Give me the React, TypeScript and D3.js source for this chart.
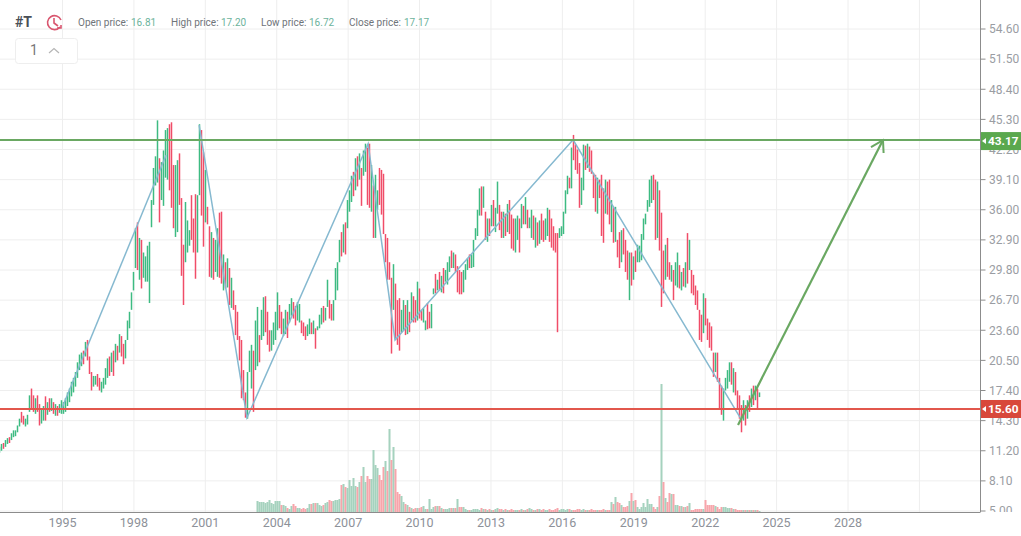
import * as d3 from "d3";

const WIDTH = 1021;
const HEIGHT = 536;
const PLOT = {right: 980.5, bottom: 512};

// monthly bars, one row per 12 bars, first row is the short 1992 stub
const highs = [
    11.6, 11.9, 12.0, 12.3, 12.5, 12.6, 13.0, 13.3,
    13.3, 13.8, 14.5, 15.2, 14.8, 14.5, 14.9, 16.9, 17.6, 16.9, 16.6, 16.9,
    16.0, 15.6, 15.8, 16.8, 16.2, 16.6, 16.6, 16.2, 16.0, 15.8, 16.0, 16.4,
    16.2, 16.6, 17.2, 17.6, 18.3, 18.7, 19.3, 20.3, 21.1, 21.3, 21.5, 22.4,
    22.6, 20.9, 19.3, 18.9, 18.9, 19.1, 18.7, 18.3, 18.7, 19.7, 20.7, 20.9,
    21.3, 21.5, 22.2, 22.0, 23.2, 23.0, 22.2, 22.6, 24.6, 25.5, 27.5, 29.6,
    34.1, 34.7, 33.1, 32.9, 31.6, 31.2, 32.3, 32.7, 37.0, 40.3, 41.5, 45.2,
    41.3, 40.9, 42.1, 44.2, 44.4, 44.8, 45.0, 40.6, 40.6, 41.1, 41.8, 37.2,
    32.4, 36.8, 34.9, 33.9, 37.5, 35.1, 37.6, 37.5, 44.8, 44.2, 41.9, 40.1,
    36.3, 34.3, 33.7, 33.1, 32.9, 34.1, 35.7, 35.8, 31.4, 30.6, 31.0, 30.0,
    29.0, 27.7, 26.2, 25.5, 23.0, 22.6, 19.5, 17.2, 19.3, 21.5, 22.1, 21.5,
    24.6, 26.0, 23.1, 25.7, 27.0, 27.1, 25.5, 23.6, 23.6, 24.4, 25.5, 27.5,
    26.2, 25.5, 24.8, 25.7, 25.5, 26.3, 26.9, 26.5, 26.1, 26.5, 26.3, 24.6,
    24.4, 24.0, 24.2, 24.8, 24.4, 24.6, 23.8, 24.0, 25.2, 25.9, 26.1, 25.9,
    28.8, 26.7, 26.3, 26.7, 30.0, 30.6, 32.9, 33.7, 34.5, 34.7, 37.0, 38.0,
    39.5, 39.9, 41.3, 41.5, 41.8, 40.3, 42.1, 42.8, 42.4, 42.8, 40.6, 38.5,
    39.6, 38.0, 40.3, 40.1, 39.7, 33.5, 33.1, 30.6, 29.0, 30.4, 28.4, 26.7,
    26.9, 25.7, 26.7, 26.2, 26.7, 25.5, 27.5, 27.1, 26.7, 28.6, 27.9, 25.7,
    25.9, 24.6, 26.4, 25.5, 26.3, 27.9, 29.4, 28.8, 29.6, 29.2, 30.0, 29.8,
    30.6, 31.2, 31.8, 31.6, 31.4, 30.2, 29.8, 29.6, 29.8, 30.4, 31.0, 31.4,
    31.4, 32.9, 34.1, 36.0, 38.2, 38.4, 38.4, 35.8, 35.1, 35.1, 36.5, 37.0,
    36.2, 38.9, 36.5, 35.8, 35.8, 35.6, 36.6, 37.0, 35.5, 35.1, 35.1, 35.4,
    35.1, 36.6, 36.4, 37.3, 36.0, 35.2, 36.0, 35.4, 35.2, 34.7, 34.9, 35.6,
    34.9, 35.1, 36.2, 36.0, 35.1, 34.3, 33.6, 33.6, 34.1, 34.3, 35.8, 38.0,
    39.5, 39.3, 42.4, 43.7, 42.7, 42.2, 40.8, 39.3, 42.7, 42.6, 42.8, 42.5,
    42.1, 39.8, 39.6, 39.3, 39.1, 39.6, 38.2, 39.1, 38.9, 39.1, 37.0, 36.3,
    36.3, 32.9, 33.7, 33.9, 34.1, 32.9, 31.8, 31.6, 31.6, 31.2, 31.8, 32.4,
    32.3, 33.5, 35.1, 35.6, 37.0, 39.1, 39.5, 39.6, 39.1, 38.9, 38.0, 35.7,
    31.8, 32.4, 33.1, 30.6, 30.3, 29.8, 30.6, 31.6, 30.3, 29.6, 30.0, 30.6,
    33.6, 32.9, 29.8, 29.3, 28.2, 27.7, 25.7, 25.2, 27.4, 26.9, 24.8, 24.4,
    24.0, 21.3, 21.3, 21.3, 18.7, 17.9, 17.6, 18.7, 19.5, 20.3, 20.3, 19.7,
    19.3, 17.4, 16.9, 15.9, 16.4, 15.9, 16.4, 16.9, 17.6, 17.9, 17.9, 17.6, 17.2,
];

const lows = [
    11.0, 11.2, 11.4, 11.6, 11.9, 12.0, 12.3, 12.6,
    12.7, 13.1, 13.7, 14.1, 13.9, 13.7, 13.9, 15.2, 15.4, 15.2, 15.0, 15.2,
    13.8, 14.0, 14.3, 14.3, 14.9, 15.2, 15.3, 15.0, 14.8, 14.8, 15.1, 15.0,
    15.0, 15.2, 15.8, 16.2, 16.8, 17.2, 17.8, 18.7, 19.5, 19.9, 20.1, 20.9,
    20.5, 19.1, 17.4, 17.8, 18.0, 17.8, 17.4, 17.2, 17.6, 18.0, 18.7, 18.9,
    19.3, 18.9, 20.3, 20.5, 21.3, 20.9, 20.1, 20.7, 22.6, 23.8, 25.7, 27.7,
    30.0, 29.8, 28.8, 27.9, 29.0, 28.6, 28.6, 26.4, 34.2, 36.5, 38.5, 38.8,
    34.7, 37.0, 36.4, 39.3, 39.1, 38.0, 36.2, 34.1, 33.2, 33.7, 36.5, 29.2,
    26.2, 30.6, 31.6, 32.3, 32.9, 31.6, 28.9, 31.6, 37.5, 35.4, 32.2, 34.7,
    34.5, 29.1, 29.0, 28.8, 29.6, 29.1, 29.0, 28.4, 27.7, 27.9, 28.0, 26.2,
    25.9, 25.7, 23.1, 22.6, 20.5, 16.6, 16.4, 14.6, 14.5, 19.3, 17.6, 15.2,
    19.5, 19.9, 20.3, 22.6, 23.0, 23.4, 22.1, 21.4, 21.5, 22.1, 22.6, 23.6,
    23.8, 23.2, 23.0, 23.2, 22.8, 24.4, 25.1, 24.8, 24.1, 24.6, 24.4, 23.3,
    23.0, 22.6, 23.0, 23.2, 23.2, 23.2, 21.7, 23.6, 23.8, 24.2, 24.4, 24.6,
    26.0, 24.8, 24.6, 24.6, 26.7, 27.7, 30.6, 31.2, 31.6, 31.4, 34.1, 35.8,
    36.8, 37.4, 38.0, 38.4, 39.1, 36.4, 39.5, 39.9, 36.5, 36.2, 35.8, 33.1,
    33.1, 36.0, 36.5, 35.5, 33.5, 30.6, 28.8, 28.8, 21.2, 25.7, 22.6, 22.1,
    21.5, 23.4, 23.6, 23.1, 23.2, 23.4, 24.6, 24.4, 24.4, 24.6, 24.8, 24.6,
    24.4, 23.6, 23.7, 23.8, 23.8, 27.3, 27.4, 27.7, 27.7, 27.5, 27.4, 28.6,
    28.3, 29.6, 30.0, 30.0, 29.6, 27.5, 27.3, 27.3, 27.5, 28.8, 29.8, 30.0,
    30.0, 30.1, 32.9, 33.3, 35.4, 35.4, 36.2, 32.9, 32.7, 33.3, 34.3, 34.3,
    33.7, 35.6, 33.9, 33.1, 33.1, 33.3, 33.7, 33.5, 32.0, 31.8, 31.6, 32.9,
    31.6, 34.1, 34.5, 34.5, 34.1, 34.1, 33.1, 32.9, 32.1, 32.3, 32.5, 32.9,
    32.7, 32.9, 33.3, 32.7, 32.1, 31.8, 31.6, 23.4, 33.1, 33.3, 33.5, 35.6,
    37.6, 38.2, 38.2, 41.1, 40.1, 39.7, 36.2, 36.5, 38.0, 40.1, 40.3, 39.9,
    39.7, 37.2, 35.8, 35.6, 37.2, 33.3, 32.6, 35.6, 35.5, 34.5, 33.7, 32.6,
    32.7, 31.1, 30.0, 30.6, 31.4, 29.6, 28.8, 26.7, 28.2, 28.8, 29.6, 30.6,
    30.6, 30.8, 32.9, 34.5, 35.8, 36.3, 36.7, 37.0, 32.9, 33.1, 31.8, 26.0,
    27.4, 28.8, 29.1, 28.8, 28.6, 26.7, 28.2, 28.0, 27.9, 27.7, 28.1, 28.0,
    28.4, 29.8, 27.4, 27.2, 26.2, 25.7, 22.6, 22.4, 23.3, 24.1, 22.6, 21.8,
    21.5, 18.8, 19.3, 18.3, 15.6, 14.9, 14.3, 17.4, 17.6, 18.3, 18.0, 17.2,
    16.9, 15.4, 14.5, 13.1, 14.3, 13.8, 14.5, 15.2, 15.7, 15.9, 16.4, 15.6, 16.72,
];

const closes = [
    11.5, 11.8, 11.7, 12.2, 12.4, 12.3, 12.9, 13.2,
    13.2, 13.7, 14.4, 14.2, 14.0, 14.4, 14.8, 16.7, 15.9, 15.5, 16.2, 15.6,
    14.4, 14.9, 15.6, 15.0, 16.0, 15.6, 15.9, 15.4, 15.7, 15.1, 15.8, 15.9,
    16.0, 16.3, 17.1, 17.4, 18.2, 18.5, 19.2, 20.2, 20.8, 21.0, 20.6, 22.2,
    20.9, 19.3, 18.2, 18.3, 18.6, 18.0, 17.9, 18.0, 18.5, 19.6, 20.5, 19.3,
    21.1, 19.5, 21.9, 20.8, 23.0, 21.3, 20.5, 22.4, 24.4, 25.2, 27.3, 29.2,
    33.8, 30.8, 31.0, 29.8, 30.0, 30.4, 31.9, 32.4, 36.6, 39.8, 41.1, 41.6,
    36.0, 38.5, 40.2, 40.4, 43.0, 39.0, 37.4, 36.2, 39.6, 39.9, 38.3, 30.5,
    28.0, 32.5, 33.0, 36.0, 34.0, 33.5, 30.5, 36.5, 43.5, 36.5, 35.3, 39.0,
    35.3, 29.5, 31.0, 29.9, 31.2, 33.5, 31.3, 29.3, 30.0, 28.5, 30.2, 26.8,
    27.2, 26.3, 25.0, 23.2, 21.4, 19.0, 17.3, 16.2, 19.0, 20.4, 20.8, 17.6,
    23.0, 24.8, 22.0, 25.0, 26.5, 24.0, 22.8, 22.3, 23.0, 24.0, 25.0, 25.5,
    24.4, 23.8, 24.6, 25.2, 23.4, 25.9, 26.0, 25.6, 24.6, 25.8, 25.9, 24.1,
    23.8, 23.3, 23.6, 24.4, 23.8, 24.1, 22.5, 23.9, 24.9, 25.4, 25.2, 25.6,
    27.0, 25.6, 25.1, 26.3, 29.8, 30.2, 32.6, 31.5, 34.0, 32.4, 36.6, 37.6,
    39.2, 38.0, 41.0, 39.6, 41.4, 39.0, 41.8, 42.4, 40.5, 37.0, 37.3, 35.0,
    36.0, 39.5, 38.8, 36.0, 34.0, 32.0, 30.9, 29.5, 24.0, 28.6, 26.0, 25.0,
    22.6, 24.8, 25.4, 24.5, 25.9, 24.8, 26.5, 26.0, 25.0, 27.6, 26.2, 24.9,
    24.9, 25.4, 24.9, 24.3, 27.0, 28.6, 28.2, 29.0, 28.0, 29.4, 28.6, 29.4,
    30.3, 31.0, 30.6, 31.2, 29.9, 28.4, 28.2, 28.0, 29.4, 30.1, 30.6, 30.2,
    31.0, 32.6, 33.8, 35.7, 37.9, 36.0, 38.0, 33.6, 34.6, 33.9, 36.2, 34.6,
    35.6, 36.5, 34.8, 34.2, 35.2, 34.0, 36.2, 35.4, 33.0, 32.4, 33.0, 34.6,
    33.0, 35.6, 35.0, 35.8, 34.8, 34.8, 35.2, 34.0, 34.5, 33.7, 34.3, 33.7,
    33.4, 34.6, 35.0, 33.4, 33.0, 32.6, 32.2, 31.9, 33.7, 34.0, 35.4, 37.6,
    39.2, 38.8, 42.0, 41.6, 40.6, 40.0, 37.0, 38.8, 42.4, 41.0, 41.6, 40.4,
    39.9, 37.9, 36.4, 38.8, 38.0, 37.4, 34.0, 38.6, 37.0, 35.0, 36.4, 33.8,
    34.0, 32.2, 30.6, 33.6, 32.6, 30.4, 29.4, 30.2, 28.9, 31.0, 30.4, 31.9,
    32.0, 33.2, 34.8, 35.4, 36.8, 38.8, 39.0, 38.0, 35.0, 36.0, 33.5, 30.0,
    28.0, 31.5, 29.6, 29.4, 30.0, 27.4, 29.4, 30.6, 28.6, 29.2, 28.6, 30.0,
    29.0, 30.0, 28.2, 27.4, 26.4, 26.2, 23.2, 23.0, 26.6, 25.0, 23.4, 23.0,
    21.8, 19.4, 20.8, 18.8, 16.3, 16.1, 17.4, 18.4, 19.0, 20.0, 18.5, 19.4,
    17.6, 15.8, 14.9, 14.0, 16.0, 14.3, 16.2, 15.6, 17.4, 16.5, 17.5, 16.81, 17.17,
];

// volume only starts late in the history, aligned to the tail of the bars
const volumes = [
    0, 11, 10, 10, 10, 9, 10, 12, 9, 8, 11, 11,
    11, 7, 7, 6, 4, 3, 6, 8, 6, 4, 4, 3,
    4, 3, 4, 8, 8, 9, 9, 9, 7, 6, 7, 9,
    10, 12, 11, 11, 12, 12, 13, 27, 28, 25, 24, 32,
    26, 34, 26, 25, 30, 36, 45, 30, 36, 33, 33, 62,
    47, 44, 37, 32, 45, 51, 41, 83, 52, 65, 43, 20,
    18, 16, 10, 8, 7, 5, 4, 3, 4, 4, 4, 5,
    6, 3, 3, 13, 3, 5, 6, 6, 6, 4, 3, 3,
    3, 4, 4, 4, 4, 13, 5, 5, 5, 3, 2, 2,
    2, 3, 3, 3, 2, 4, 3, 3, 2, 3, 2, 2,
    3, 4, 3, 3, 2, 3, 2, 2, 3, 2, 2, 2,
    2, 3, 2, 2, 3, 4, 3, 2, 2, 3, 3, 2,
    3, 2, 2, 3, 2, 2, 3, 4, 2, 3, 3, 2,
    3, 3, 2, 2, 2, 3, 3, 2, 3, 2, 2, 2,
    3, 2, 2, 2, 2, 2, 3, 2, 2, 2, 10, 8,
    15, 10, 9, 7, 5, 5, 6, 11, 19, 11, 12, 5,
    3, 5, 9, 5, 13, 8, 8, 5, 3, 5, 16, 128,
    30, 14, 10, 19, 18, 18, 7, 7, 6, 6, 5, 5,
    6, 9, 2, 2, 3, 3, 3, 3, 3, 12, 7, 7,
    7, 7, 6, 5, 3, 5, 5, 5, 4, 4, 4, 3,
    3, 2, 2, 2, 2, 2, 2, 2, 2, 2, 2, 2, 1,
];
// the tall volume spikes read green whatever the bar above them did
const greenVolumeSlots = [1, 2, 3, 4, 5, 6, 7, 10, 11, 12, 47, 49, 54, 59, 65, 67, 69, 87, 101, 203];

const priceTicks = [5, 8.1, 11.2, 14.3, 17.4, 20.5, 23.6, 26.7, 29.8, 32.9, 36, 39.1, 42.2, 45.3, 48.4, 51.5, 54.6];
const yearGrid = [1995, 1998, 2001, 2004, 2007, 2010, 2013, 2016, 2019, 2022, 2025, 2028, 2031];
const yearLabels = ["1995", "1998", "2001", "2004", "2007", "2010", "2013", "2016", "2019", "2022", "2025", "2028"];

const resistance = 43.17;
const support = 15.6;

// hand drawn trend lines: [year, price]
const riseOne: [number, number][] = [[1994.98, 15.6], [1999.35, 41.6]];
const zigzag: [number, number][] = [
    [2000.74, 44.7], [2002.75, 14.6], [2007.84, 42.8], [2008.97, 22.6], [2016.45, 43.2], [2023.47, 14.6],
];
const forecast: [number, number][] = [[2023.38, 13.85], [2029.47, 43.17]];

const header = [
    {label: "Open price:", x: 78, value: "16.81", vx: 131},
    {label: "High price:", x: 171, value: "17.20", vx: 221},
    {label: "Low price:", x: 261, value: "16.72", vx: 309},
    {label: "Close price:", x: 349, value: "17.17", vx: 404},
];

const UP = "#3dbb82";
const DOWN = "#f04d68";
const FONT = "Roboto, Arial, sans-serif";

export default function App() {
    const x = d3.scaleLinear().domain([1995, 2028]).range([62.5, 848]);
    const y = d3.scaleLinear().domain([5, 54.6]).range([511, 29]);
    const barX = d3.scaleLinear().domain([0, closes.length - 1]).range([-0.5, 759.5]);
    const volY = d3.scaleLinear().domain([0, 128]).range([PLOT.bottom, 384]);
    const volumeOffset = closes.length - volumes.length;

    const line = d3.line<[number, number]>().x((d) => x(d[0])).y((d) => y(d[1]));

    const isUp = (i: number) => closes[i] >= (i === 0 ? 11.3 : closes[i - 1]);

    // the bars are so thin that body and wick read as one stroke
    const bars = closes.map((c, i) => (
        <line
            key={i}
            x1={barX(i)}
            x2={barX(i)}
            y1={y(highs[i])}
            y2={y(lows[i])}
            stroke={isUp(i) ? UP : DOWN}
            strokeWidth={1.5}
        />
    ));

    const volumeBars = volumes.map((v, i) => {
        const idx = i + volumeOffset;
        const green = isUp(idx) || greenVolumeSlots.includes(i);
        return (
            <rect
                key={i}
                x={barX(idx) - 1}
                width={2}
                y={volY(v)}
                height={PLOT.bottom - volY(v)}
                fill={green ? "#a5d2be" : "#f7a5ab"}
            />
        );
    });

    // arrow head of the forecast line
    const tip = [x(forecast[1][0]), y(forecast[1][1])];
    const supportY = y(support) + 1;

    return (
        <svg
            width={WIDTH}
            height={HEIGHT}
            style={{position: "absolute", left: 0, top: 0, background: "#fff"}}
            fontFamily={FONT}
        >
            <defs>
                <clipPath id="axis-clip">
                    <rect x={PLOT.right} y={0} width={50} height={PLOT.bottom} />
                </clipPath>
            </defs>

            {yearGrid.map((t) => (
                <line key={t} x1={x(t)} x2={x(t)} y1={0} y2={PLOT.bottom} stroke="#eeeeee" />
            ))}
            {priceTicks.map((t) => (
                <line key={t} x1={0} x2={PLOT.right} y1={y(t)} y2={y(t)} stroke="#eeeeee" />
            ))}

            {volumeBars}
            {bars}

            <path d={line(riseOne) ?? ""} fill="none" stroke="#86b9d0" strokeWidth={1.5} />
            <path d={line(zigzag) ?? ""} fill="none" stroke="#86b9d0" strokeWidth={1.5} />

            <line x1={0} x2={PLOT.right} y1={y(resistance)} y2={y(resistance)} stroke="#6aa862" strokeWidth={2} />
            <line x1={0} x2={PLOT.right} y1={supportY} y2={supportY} stroke="#e2574c" strokeWidth={2} />

            <path d={line(forecast) ?? ""} fill="none" stroke="#6aa862" strokeWidth={2.2} />
            <path
                d={`M${tip[0] - 12},${tip[1] + 7}L${tip[0]},${tip[1]}L${tip[0] + 0.6},${tip[1] + 13}`}
                fill="none"
                stroke="#6aa862"
                strokeWidth={2}
            />

            {/* axes */}
            <line x1={PLOT.right} x2={PLOT.right} y1={0} y2={PLOT.bottom} stroke="#8c8c8c" />
            <line x1={0} x2={PLOT.right} y1={PLOT.bottom + 0.5} y2={PLOT.bottom + 0.5} stroke="#8c8c8c" />
            <g clipPath="url(#axis-clip)">
                {priceTicks.map((t) => (
                    <g key={t}>
                        <line x1={PLOT.right} x2={PLOT.right + 5} y1={y(t)} y2={y(t)} stroke="#8c8c8c" />
                        <text x={989} y={y(t)} dy="0.36em" fontSize={12} fill="#9a9da3">
                            {t.toFixed(2)}
                        </text>
                    </g>
                ))}
            </g>
            {yearLabels.map((t) => (
                <text key={t} x={x(+t)} y={527} textAnchor="middle" fontSize={12.5} fill="#8d9199">
                    {t}
                </text>
            ))}

            {/* price tags */}
            <g>
                <rect x={981} y={y(resistance) - 8} width={40} height={18} fill="#5aa84e" />
                <path d={`M982,${y(resistance) + 1}l4,-3v6z`} fill="#fff" />
                <text x={988} y={y(resistance) + 1} dy="0.36em" fontSize={11.8} fontWeight={700} fill="#fff">
                    {resistance.toFixed(2)}
                </text>
                <rect x={981} y={supportY - 9} width={40} height={18} fill="#d8483b" />
                <path d={`M982,${supportY}l4,-3v6z`} fill="#fff" />
                <text x={988} y={supportY} dy="0.36em" fontSize={11.8} fontWeight={700} fill="#fff">
                    {support.toFixed(2)}
                </text>
            </g>

            {/* header */}
            <text x={15} y={27} fontSize={14} fontWeight={700} fill="#4a4f57">#T</text>
            <g fill="none" stroke="#d9566f" strokeWidth={1.6}>
                <path d="M60,27A7,7 0 1 1 61,20" />
                <path d="M54,18v5l4,3" />
                <path d="M57,28h4v-3" />
            </g>
            {header.map((h) => (
                <g key={h.label} fontSize={10}>
                    <text x={h.x} y={26} fill="#6f7479">{h.label}</text>
                    <text x={h.vx} y={26} fill="#6cb39c">{h.value}</text>
                </g>
            ))}
            <rect x={15.5} y={38.5} width={62} height={25} rx={3} fill="#fff" stroke="#eeeeee" />
            <text x={34} y={55} textAnchor="middle" fontSize={14} fill="#777">1</text>
            <path d="M49,53l5,-4.500l5,4.500" fill="none" stroke="#b5b5b5" strokeWidth={1.2} />
        </svg>
    );
}
